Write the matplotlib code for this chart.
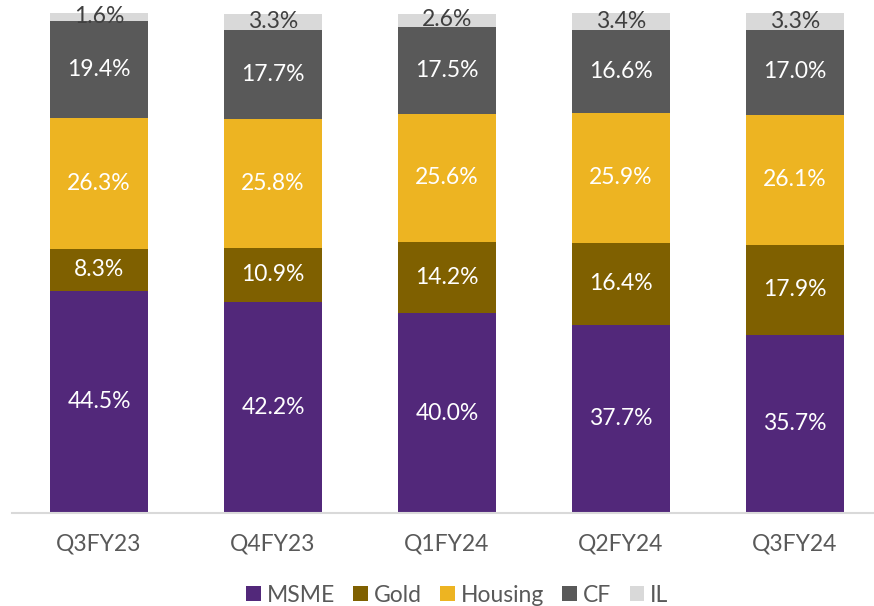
import matplotlib
matplotlib.use("Agg")
import matplotlib.pyplot as plt
import numpy as np

categories = ["Q3FY23", "Q4FY23", "Q1FY24", "Q2FY24", "Q3FY24"]
msme = [44.5, 42.2, 40.0, 37.7, 35.7]
gold = [8.3, 10.9, 14.2, 16.4, 17.9]
housing = [26.3, 25.8, 25.6, 25.9, 26.1]
cf = [19.4, 17.7, 17.5, 16.6, 17.0]
il = [1.6, 3.3, 2.6, 3.4, 3.3]

series = [("MSME", msme, "#52287A", "white"),
          ("Gold", gold, "#7F6000", "white"),
          ("Housing", housing, "#EDB422", "white"),
          ("CF", cf, "#595959", "white"),
          ("IL", il, "#D9D9D9", "#404040")]

plt.rcParams['font.family'] = ['Lato', 'DejaVu Sans']

fig = plt.figure(figsize=(8.74, 6.06), dpi=100)
ax = fig.add_axes([12/874, 93/606, 1 - 12/874, (513-13)/606])

x = np.arange(len(categories))
bottom = np.zeros(len(categories))
for name, vals, col, tcol in series:
    vals = np.array(vals)
    ax.bar(x, vals, 0.563, bottom=bottom, color=col, label=name, zorder=2)
    for xi, b, v in zip(x, bottom, vals):
        ax.text(xi, b + v / 2, f"{v:.1f}%", ha="center", va="center",
                color=tcol, fontsize=16.5, zorder=3)
    bottom += vals

ax.set_xlim(-0.5, 4.454)
ax.set_ylim(0, 100)
for s in ["top", "right", "left"]:
    ax.spines[s].set_visible(False)
ax.spines["bottom"].set_color("#D9D9D9")
ax.spines["bottom"].set_linewidth(1.5)
ax.set_yticks([])
ax.set_xticks(x)
ax.set_xticklabels(categories, fontsize=16.5, color="#595959")
ax.tick_params(axis="x", length=0, pad=15)

leg = fig.legend(loc="center", bbox_to_anchor=(0.523, 11/606), ncol=5,
                 frameon=False, fontsize=16.5, handlelength=0.65, handleheight=0.65,
                 handletextpad=0.25, columnspacing=0.8, labelcolor="#595959")
fig.savefig("out.png", dpi=100)
